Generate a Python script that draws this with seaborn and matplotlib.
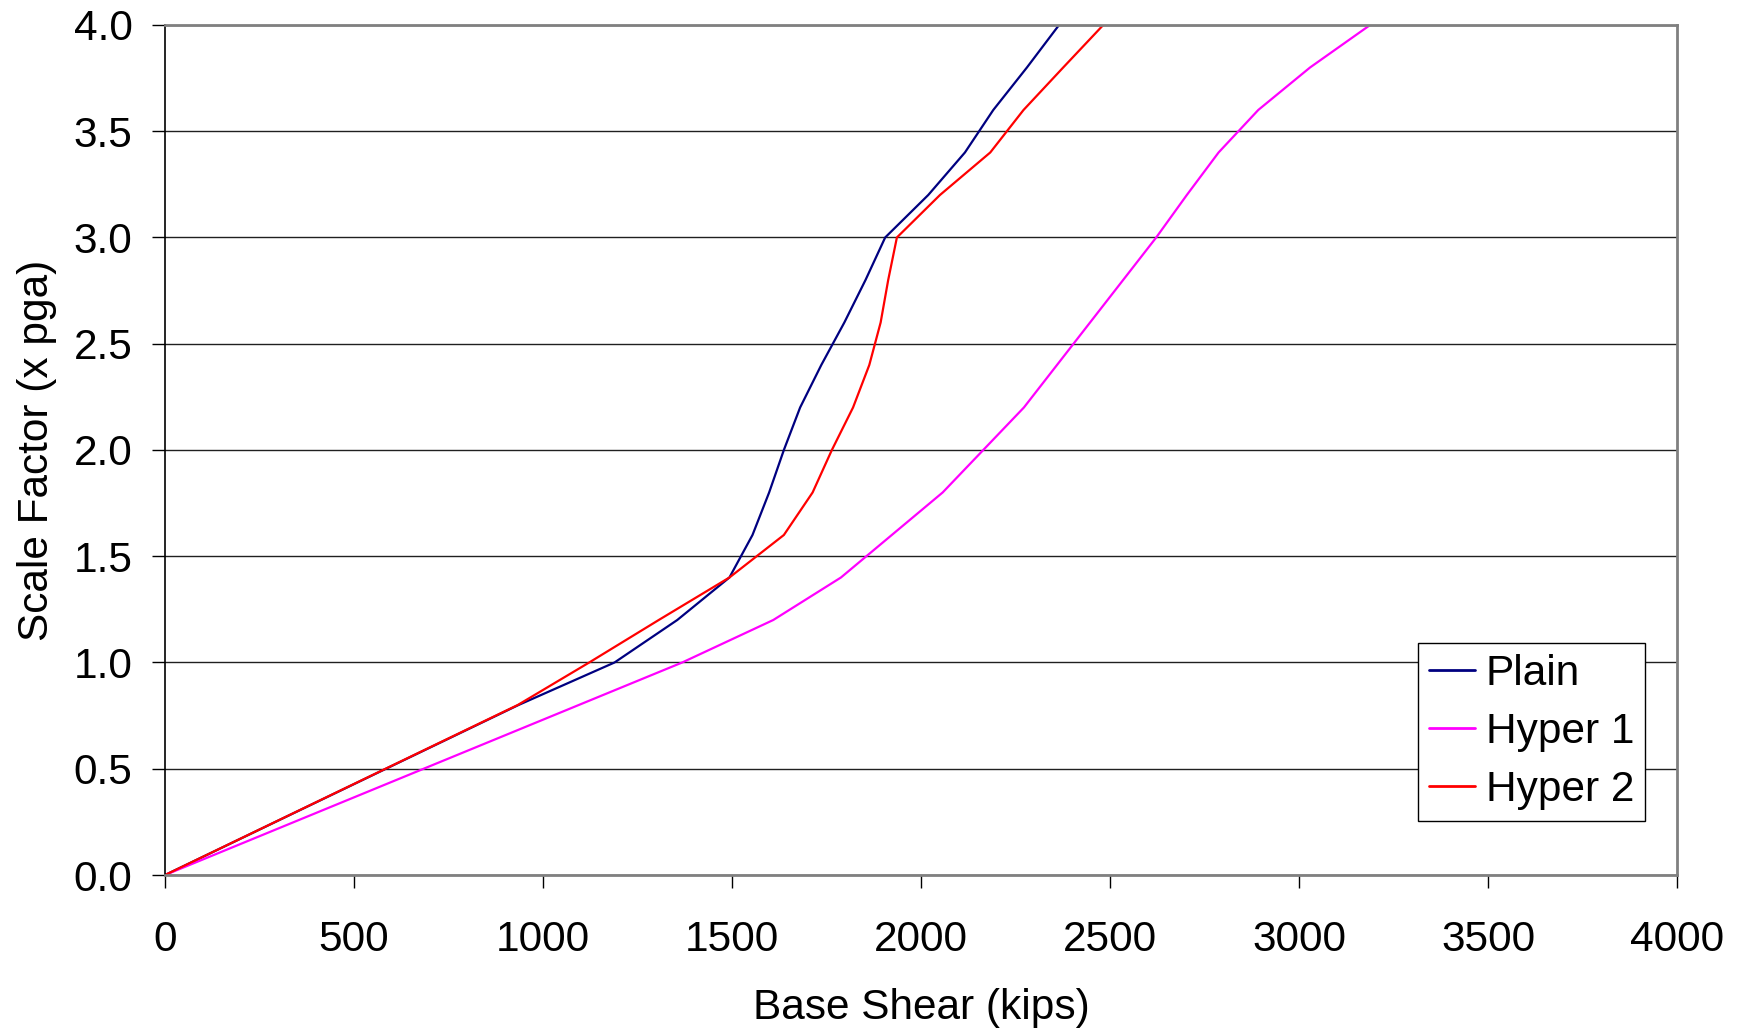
import matplotlib
matplotlib.use("Agg")
import matplotlib.pyplot as plt
import seaborn as sns
import pandas as pd

# ---- data ----
plain_y = [0.0, 0.8, 1.0, 1.2, 1.4, 1.6, 1.8, 2.0, 2.2, 2.4, 2.6, 2.8, 3.0, 3.2, 3.4, 3.6, 3.8, 4.0]
plain_x = [0, 935, 1189, 1355, 1493, 1554, 1598, 1637, 1680, 1736, 1797, 1853, 1905, 2019, 2116, 2191, 2280, 2365]

hyper1_y = [0.0, 1.0, 1.2, 1.4, 1.8, 2.2, 3.0, 3.2, 3.4, 3.6, 3.8, 4.0]
hyper1_x = [0, 1368, 1609, 1788, 2057, 2272, 2622, 2703, 2787, 2892, 3029, 3188]

hyper2_y = [0.0, 0.8, 1.0, 1.2, 1.4, 1.6, 1.8, 2.0, 2.2, 2.4, 2.6, 2.8, 3.0, 3.2, 3.4, 3.6, 3.8, 4.0]
hyper2_x = [0, 933, 1122, 1306, 1493, 1637, 1713, 1764, 1820, 1863, 1893, 1913, 1936, 2050, 2183, 2271, 2376, 2482]

series_names = ["Plain", "Hyper 1", "Hyper 2"]
series_colors = ["#000080", "#FF00FF", "#FF0000"]
x_ticks = [0, 500, 1000, 1500, 2000, 2500, 3000, 3500, 4000]
y_ticks = [0.0, 0.5, 1.0, 1.5, 2.0, 2.5, 3.0, 3.5, 4.0]

frames = []
for name, xs, ys in zip(series_names, [plain_x, hyper1_x, hyper2_x], [plain_y, hyper1_y, hyper2_y]):
    frames.append(pd.DataFrame({"shear": xs, "scale": ys, "series": name, "order": range(len(xs))}))
df = pd.concat(frames, ignore_index=True)

sns.set_style("white")
plt.rcParams["font.family"] = ["Liberation Sans", "DejaVu Sans"]
plt.rcParams["text.color"] = "black"
plt.rcParams["axes.labelcolor"] = "black"
plt.rcParams["xtick.color"] = "black"
plt.rcParams["ytick.color"] = "black"

FS = 30.5

fig = plt.figure(figsize=(17.43, 10.36), dpi=100)
ax = fig.add_axes([0.0947, 0.1554, 0.8675, 0.8205])

sns.lineplot(data=df, x="shear", y="scale", hue="series", hue_order=series_names,
             palette=dict(zip(series_names, series_colors)), sort=False,
             estimator=None, units="series", linewidth=1.6, ax=ax, legend=True)

ax.set_xlim(0, 4000)
ax.set_ylim(0, 4.0)
ax.set_xticks(x_ticks)
ax.set_xticklabels([str(v) for v in x_ticks])
ax.set_yticks(y_ticks)
ax.set_yticklabels([f"{v:.1f}" for v in y_ticks])

ax.yaxis.grid(True, color="#202020", linewidth=1.0)
ax.xaxis.grid(False)
ax.set_axisbelow(True)

for side in ["top", "right", "bottom"]:
    ax.spines[side].set_color("#808080")
    ax.spines[side].set_linewidth(2.0)
ax.spines["left"].set_color("#000000")
ax.spines["left"].set_linewidth(1.2)

ax.tick_params(axis="both", which="major", direction="out", length=9.5, width=1.0,
               color="#000000", labelcolor="black", labelsize=FS, left=True, bottom=True)
ax.tick_params(axis="y", pad=14)
ax.tick_params(axis="x", pad=23)

ax.set_xlabel("Base Shear (kips)", fontsize=FS, labelpad=20, color="black")
ax.set_ylabel("Scale Factor (x pga)", fontsize=FS, labelpad=12, color="black")

leg = ax.legend(loc="lower right", bbox_to_anchor=(0.979, 0.064), fontsize=FS,
                frameon=True, fancybox=False, edgecolor="#000000", framealpha=1,
                handlelength=1.1, handletextpad=0.25, labelspacing=0.42,
                borderpad=0.26, borderaxespad=0)
leg.get_frame().set_linewidth(1.0)
for h in leg.get_lines():
    h.set_linewidth(2.0)
for t in leg.get_texts():
    t.set_color("black")

fig.savefig("out.png", dpi=100)
